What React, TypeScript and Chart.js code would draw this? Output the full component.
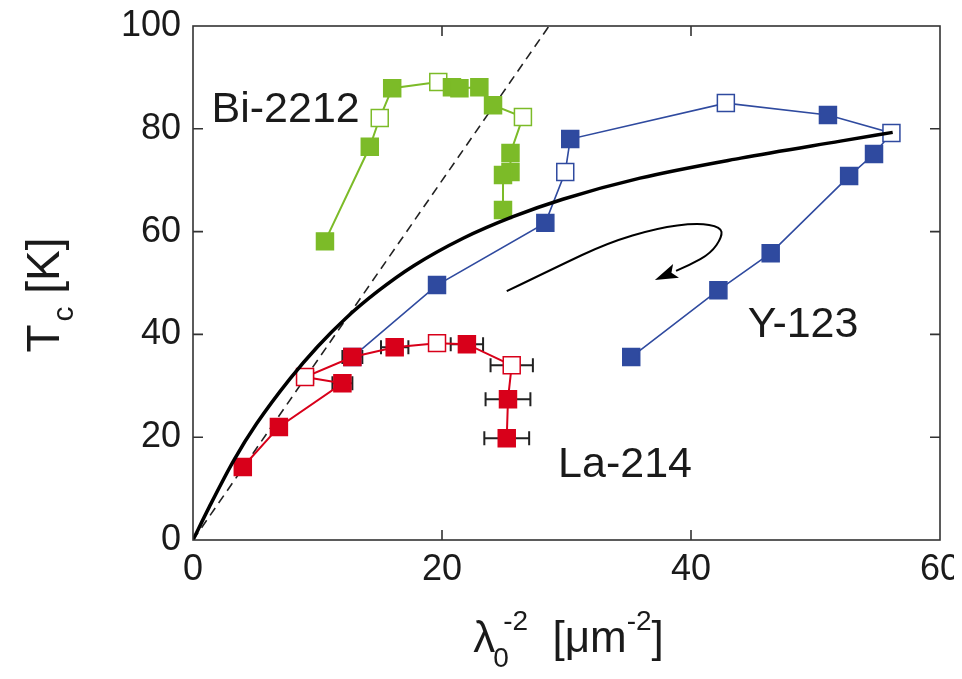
import React, { useEffect, useRef } from 'react';
import { Chart, registerables } from 'chart.js';

Chart.register(...registerables);

const FONT = '"Liberation Sans", Arial, Helvetica, sans-serif';

// Bi-2212 (green)
const BI_X = [10.6, 14.2, 15.0, 16.0, 19.7, 20.8, 21.4, 23.0, 24.1, 26.5, 25.5, 25.5, 24.9, 24.9];
const BI_T = [58.1, 76.5, 82.1, 87.9, 89.1, 88.1, 87.9, 88.1, 84.6, 82.3, 75.3, 71.6, 71.0, 64.2];
const BI_OPEN = [0, 0, 1, 0, 1, 0, 0, 0, 0, 1, 0, 0, 0, 0];

// Y-123 (blue)
const Y_X = [12.8, 19.6, 28.3, 29.9, 30.3, 42.8, 51.0, 56.1, 54.7, 52.7, 46.4, 42.2, 35.2];
const Y_T = [35.6, 49.6, 61.7, 71.6, 78.0, 85.0, 82.7, 79.2, 75.1, 70.8, 55.8, 48.6, 35.6];
const Y_OPEN = [0, 0, 0, 1, 0, 1, 0, 1, 0, 0, 0, 0, 0];

// La-214 (red)
const LA_X = [4.0, 6.9, 12.0, 9.0, 12.8, 16.2, 19.6, 22.0, 25.6, 25.3, 25.2];
const LA_T = [14.2, 22.0, 30.5, 31.7, 35.6, 37.5, 38.3, 38.1, 34.0, 27.4, 19.8];
const LA_OPEN = [0, 0, 0, 1, 0, 0, 1, 0, 1, 0, 0];
const LA_XERR = [0, 0, 0.8, 0.65, 0.8, 1.1, 0, 1.3, 1.7, 1.8, 1.8];

// Universal curve (solid black)
const CURVE_X = [0, 1.3, 3.3, 5.1, 7.8, 10, 12.3, 14.8, 17.7, 21.7, 25.7, 29.7, 35.9, 44, 52, 56.2];
const CURVE_T = [0, 6.4, 15.6, 22.6, 31.4, 37.6, 43.2, 48.3, 53.3, 58.7, 62.9, 66.3, 70.4, 74.3, 77.6, 79.3];

// Linear (dashed) line
const DASH_X = [0, 28.6];
const DASH_T = [0, 100];

// Curved arrow annotation
const ARROW_X = [25.2, 29.2, 33.3, 37.3, 40.5, 42.4, 42.5, 41.6, 39.9, 37.1];
const ARROW_T = [48.4, 53.1, 57.8, 60.7, 61.7, 60.9, 59.0, 55.8, 53.5, 50.6];

// Axis ticks
const X_TICKS = [0, 20, 40, 60];
const Y_TICKS = [0, 20, 40, 60, 80, 100];

// Text labels
const LABEL_TEXT = ['Bi-2212', 'Y-123', 'La-214'];
const LABEL_X = [7.44, 49.0, 34.7];
const LABEL_T = [83.7, 41.8, 14.6];

const GREEN = '#7cbb28';
const BLUE = '#2f4a9f';
const RED = '#d8001a';
const INK = '#1a1a1a';

function pts(xs: number[], ys: number[]) {
  return xs.map((x, i) => ({ x, y: ys[i] }));
}

function drawParts(ctx: CanvasRenderingContext2D, parts: { t: string; size: number; dy: number; dx?: number; noAdvance?: boolean }[], measureOnly: boolean) {
  let x = 0;
  for (const p of parts) {
    ctx.font = `${p.size}px ${FONT}`;
    const w = ctx.measureText(p.t).width;
    const px = x + (p.dx || 0);
    if (!measureOnly) ctx.fillText(p.t, px, p.dy);
    if (!p.noAdvance) x = px + w;
  }
  return x;
}

const decor = {
  id: 'decor',
  beforeDatasetsDraw(chart: any) {
    const { ctx, scales } = chart;
    const xs = scales.x, ys = scales.y;
    ctx.save();
    ctx.strokeStyle = '#222';
    ctx.lineWidth = 2;
    LA_X.forEach((vx, i) => {
      const e = LA_XERR[i];
      if (!e) return;
      const py = ys.getPixelForValue(LA_T[i]);
      const x1 = xs.getPixelForValue(vx - e);
      const x2 = xs.getPixelForValue(vx + e);
      ctx.beginPath();
      ctx.moveTo(x1, py); ctx.lineTo(x2, py);
      ctx.moveTo(x1, py - 7); ctx.lineTo(x1, py + 7);
      ctx.moveTo(x2, py - 7); ctx.lineTo(x2, py + 7);
      ctx.stroke();
    });
    ctx.restore();
  },
  afterDatasetsDraw(chart: any) {
    const { ctx, scales, chartArea } = chart;
    const xs = scales.x, ys = scales.y;
    ctx.save();
    // arrow
    const p = ARROW_X.map((vx, i) => [xs.getPixelForValue(vx), ys.getPixelForValue(ARROW_T[i])]);
    const n = p.length;
    const tip = p[n - 1];
    const prev = p[n - 2];
    let dx = tip[0] - prev[0], dy = tip[1] - prev[1];
    const len = Math.hypot(dx, dy);
    dx /= len; dy /= len;
    const headL = 23, headW = 7.5;
    const base = [tip[0] - dx * headL, tip[1] - dy * headL];
    ctx.strokeStyle = '#000';
    ctx.lineWidth = 2;
    ctx.beginPath();
    ctx.moveTo(p[0][0], p[0][1]);
    for (let i = 1; i < n - 2; i++) {
      const mx = (p[i][0] + p[i + 1][0]) / 2;
      const my = (p[i][1] + p[i + 1][1]) / 2;
      ctx.quadraticCurveTo(p[i][0], p[i][1], mx, my);
    }
    ctx.quadraticCurveTo(p[n - 2][0], p[n - 2][1], base[0], base[1]);
    ctx.stroke();
    ctx.fillStyle = '#000';
    ctx.beginPath();
    ctx.moveTo(tip[0], tip[1]);
    ctx.lineTo(base[0] - dy * headW, base[1] + dx * headW);
    ctx.lineTo(base[0] + dx * 5, base[1] + dy * 5);
    ctx.lineTo(base[0] + dy * headW, base[1] - dx * headW);
    ctx.closePath();
    ctx.fill();

    // frame
    const { left, right, top, bottom } = chartArea;
    ctx.strokeStyle = '#333';
    ctx.lineWidth = 1.6;
    ctx.strokeRect(left, top, right - left, bottom - top);
    // inner ticks
    const tl = 10;
    ctx.beginPath();
    X_TICKS.forEach((v) => {
      if (v === 0 || v === 60) return;
      const px = xs.getPixelForValue(v);
      ctx.moveTo(px, bottom); ctx.lineTo(px, bottom - tl);
      ctx.moveTo(px, top); ctx.lineTo(px, top + tl);
    });
    Y_TICKS.forEach((v) => {
      if (v === 0 || v === 100) return;
      const py = ys.getPixelForValue(v);
      ctx.moveTo(left, py); ctx.lineTo(left + tl, py);
      ctx.moveTo(right, py); ctx.lineTo(right - tl, py);
    });
    ctx.stroke();

    // labels
    ctx.fillStyle = INK;
    ctx.font = `43px ${FONT}`;
    ctx.textAlign = 'center';
    ctx.textBaseline = 'middle';
    LABEL_TEXT.forEach((t, i) => {
      ctx.fillText(t, xs.getPixelForValue(LABEL_X[i]), ys.getPixelForValue(LABEL_T[i]));
    });
    ctx.restore();
  },
  afterDraw(chart: any) {
    const { ctx, chartArea } = chart;
    ctx.save();
    ctx.fillStyle = INK;
    ctx.textAlign = 'left';
    ctx.textBaseline = 'alphabetic';
    // x title: λ0^-2 [μm^-2]
    const xParts = [
      { t: 'λ', size: 44, dy: 0 },
      { t: '0', size: 28, dy: 15, dx: -2, noAdvance: true },
      { t: '-2', size: 28, dy: -22, dx: 8 },
      { t: '  [μm', size: 44, dy: 0 },
      { t: '-2', size: 28, dy: -22 },
      { t: ']', size: 44, dy: 0 },
    ];
    const wX = drawParts(ctx, xParts, true);
    const cx = (chartArea.left + chartArea.right) / 2 + 2;
    ctx.save();
    ctx.translate(cx - wX / 2, 644);
    drawParts(ctx, xParts, false);
    ctx.restore();
    // y title: Tc [K]
    const yParts = [
      { t: 'T', size: 46, dy: 0 },
      { t: 'c', size: 30, dy: 14, dx: 3 },
      { t: ' [K]', size: 46, dy: 0 },
    ];
    const wY = drawParts(ctx, yParts, true);
    ctx.save();
    ctx.translate(51, 287 + wY / 2);
    ctx.rotate(-Math.PI / 2);
    drawParts(ctx, yParts, false);
    ctx.restore();
    ctx.restore();
  },
};

export default function App() {
  const ref = useRef<HTMLCanvasElement>(null);
  useEffect(() => {
    const canvas = ref.current;
    if (!canvas) return;
    const series = (label: string, xs: number[], ys: number[], open: number[], color: string, lw: number, order: number) => ({
      type: 'line' as const,
      label,
      data: pts(xs, ys),
      borderColor: color,
      borderWidth: lw,
      pointStyle: 'rect',
      pointRadius: 12,
      pointHoverRadius: 12,
      pointBackgroundColor: open.map((o) => (o ? '#ffffff' : color)),
      pointBorderColor: color,
      pointBorderWidth: 1.5,
      tension: 0,
      order,
      clip: false,
    });
    const chart = new Chart(canvas, {
      type: 'line',
      data: {
        datasets: [
          {
            label: 'curve',
            data: pts(CURVE_X, CURVE_T),
            borderColor: '#000',
            borderWidth: 3.5,
            pointRadius: 0,
            cubicInterpolationMode: 'monotone',
            order: 0,
          } as any,
          series('La-214', LA_X, LA_T, LA_OPEN, RED, 2, 1),
          series('Bi-2212', BI_X, BI_T, BI_OPEN, GREEN, 2, 2),
          series('Y-123', Y_X, Y_T, Y_OPEN, BLUE, 1.6, 3),
          {
            label: 'linear',
            data: pts(DASH_X, DASH_T),
            borderColor: '#222',
            borderWidth: 1.6,
            borderDash: [9, 6],
            pointRadius: 0,
            order: 4,
          } as any,
        ],
      },
      options: {
        animation: false,
        responsive: true,
        maintainAspectRatio: false,
        events: [],
        layout: { padding: { top: 18, right: 14, left: 0, bottom: 0 } },
        plugins: { legend: { display: false }, tooltip: { enabled: false } },
        scales: {
          x: {
            type: 'linear',
            min: 0,
            max: 60,
            ticks: { stepSize: 20, autoSkip: false, maxRotation: 0, padding: 8, color: INK, font: { size: 36, family: FONT } },
            grid: { display: false, drawTicks: false },
            border: { display: false },
            afterFit: (s: any) => { s.height = 131; s.paddingLeft = 0; s.paddingRight = 0; },
          },
          y: {
            type: 'linear',
            min: 0,
            max: 100,
            ticks: { stepSize: 20, padding: 12, color: INK, font: { size: 36, family: FONT } },
            grid: { display: false, drawTicks: false },
            border: { display: false },
            afterFit: (s: any) => { s.width = 185; s.paddingTop = 0; s.paddingBottom = 0; },
          },
        },
      } as any,
      plugins: [decor],
    });
    return () => chart.destroy();
  }, []);
  return (
    <div style={{ width: 946, height: 663, position: 'relative' }}>
      <canvas ref={ref} />
    </div>
  );
}
